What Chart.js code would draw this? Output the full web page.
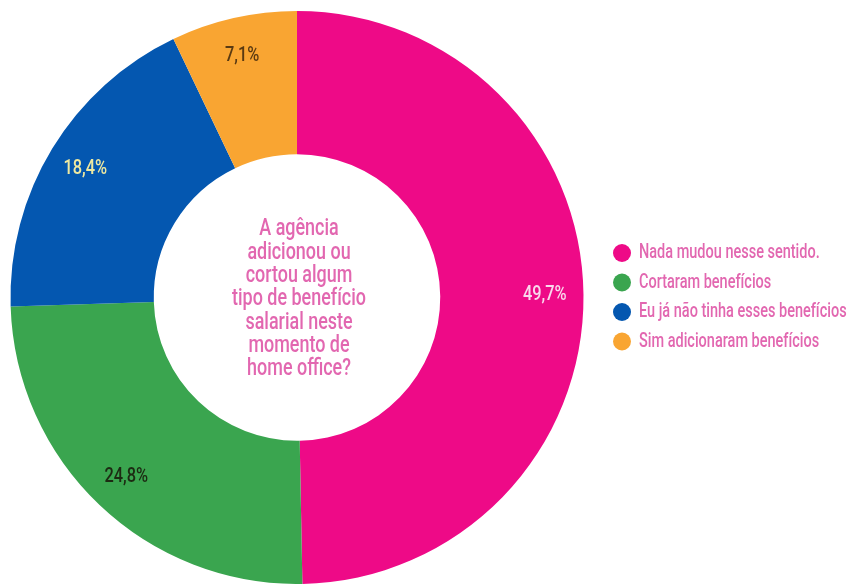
<!DOCTYPE html>
<html>
<head>
<meta charset="utf-8">
<title>Benefícios salariais no home office</title>
<script src="https://cdn.jsdelivr.net/npm/chart.js@4/dist/chart.umd.min.js"></script>
<style>
  html, body { margin: 0; background: #fff; }
</style>
</head>
<body>
<canvas id="chart" width="850" height="584"></canvas>
<script>
const categories = ['Nada mudou nesse sentido.', 'Cortaram benefícios', 'Eu já não tinha esses benefícios', 'Sim adicionaram benefícios'];
const shares = [49.7, 24.8, 18.4, 7.1];
const sliceColors = ['#ee0a87', '#3aa54f', '#0457b0', '#f9a532'];
const valueColors = ['#f9d8ec', '#1c2a12', '#efe9a0', '#5a3a12'];
const questionLines = ['A agência', 'adicionou ou', 'cortou algum', 'tipo de benefício', 'salarial neste', 'momento de', 'home office?'];

const FONT = 'Roboto, "DejaVu Sans", sans-serif';
const textPink = '#e267b0';

// condensed look: squeeze text horizontally
function narrowText(ctx, text, x, y, size, color, align, squeeze) {
  ctx.save();
  ctx.font = `500 ${size}px ${FONT}`;
  ctx.fillStyle = color;
  ctx.textAlign = align;
  ctx.textBaseline = 'middle';
  ctx.translate(x, y);
  ctx.scale(squeeze, 1);
  ctx.fillText(text, 0, 0);
  ctx.restore();
}

const overlay = {
  id: 'overlay',
  afterDraw(chart) {
    const ctx = chart.ctx;
    const arcs = chart.getDatasetMeta(0).data;

    // percentage inside each slice
    arcs.forEach((arc, i) => {
      const p = arc.getProps(['x', 'y', 'startAngle', 'endAngle', 'innerRadius', 'outerRadius'], true);
      const mid = (p.startAngle + p.endAngle) / 2;
      const r = p.innerRadius + 0.73 * (p.outerRadius - p.innerRadius);
      const label = shares[i].toFixed(1).replace('.', ',') + '%';
      narrowText(ctx, label, p.x + Math.cos(mid) * r, p.y + Math.sin(mid) * r, 21, valueColors[i], 'center', 0.78);
    });

    // question in the hole
    const c = arcs[0].getProps(['x', 'y'], true);
    const step = 23.3;
    const top = c.y + 2 - step * (questionLines.length - 1) / 2;
    questionLines.forEach((line, i) => {
      narrowText(ctx, line, c.x + 2, top + i * step, 23, textPink, 'center', 0.78);
    });

    // legend
    categories.forEach((name, i) => {
      const y = 253 + i * 29.5;
      ctx.beginPath();
      ctx.arc(622, y, 9, 0, Math.PI * 2);
      ctx.fillStyle = sliceColors[i];
      ctx.fill();
      narrowText(ctx, name, 639, y, 21, textPink, 'left', 0.69);
    });
  }
};

new Chart(document.getElementById('chart'), {
  type: 'doughnut',
  data: {
    labels: categories,
    datasets: [{
      data: shares,
      backgroundColor: sliceColors,
      borderWidth: 0
    }]
  },
  options: {
    responsive: false,
    animation: false,
    cutout: '50%',
    layout: { padding: { left: 10, right: 266, top: 11, bottom: 0 } },
    plugins: {
      legend: { display: false },
      tooltip: { enabled: false }
    }
  },
  plugins: [overlay]
});
</script>
</body>
</html>
